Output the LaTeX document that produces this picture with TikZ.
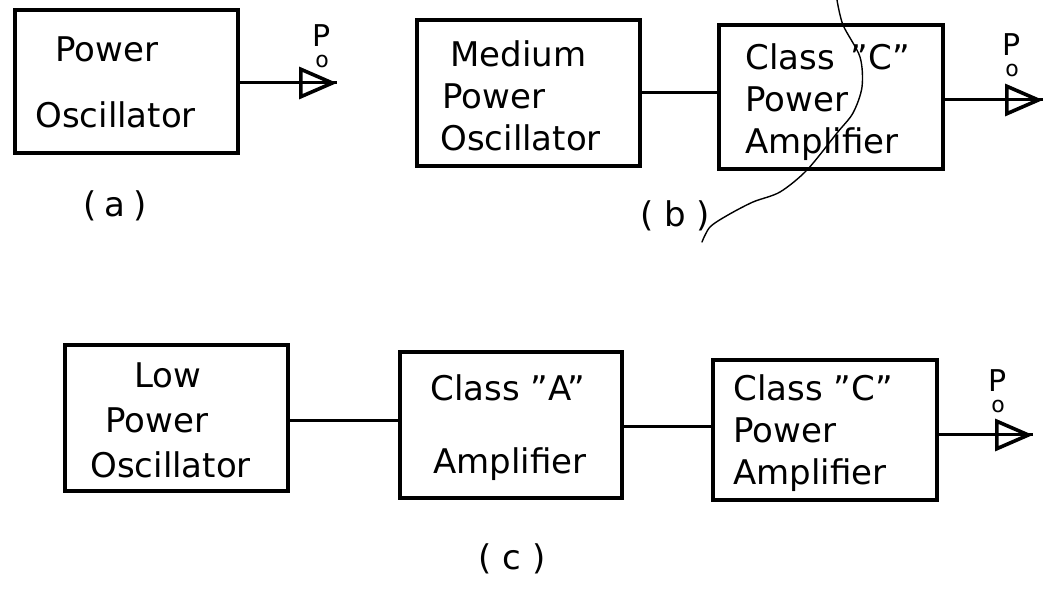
\documentclass[tikz,border=0pt]{standalone}
\usepackage{fontspec}
\setmainfont{DejaVu Sans}
\usetikzlibrary{arrows.meta}
\begin{document}
\begin{tikzpicture}[x=0.5pt,y=-0.5pt,
  box/.style={draw, line width=2pt, inner sep=0pt},
  txt/.style={anchor=north west, inner sep=0pt, align=left, font=\fontsize{17}{21}\selectfont},
  po/.style={anchor=north west, inner sep=0pt, align=left, font=\fontsize{15}{10.5}\selectfont},
  caption/.style={font=\fontsize{17}{21}\selectfont, inner sep=0pt},
  conn/.style={line width=1.5pt},
  outarrow/.style={line width=1.5pt, -{Triangle[open, length=19pt, width=16pt, line width=1.8pt]}},
  scratch/.style={line width=0.7pt, line cap=round}]
\useasboundingbox (0,0) rectangle (1045,592);

% boxes
\node[box, minimum width=111.5pt, minimum height=71.5pt] (A)  at (126.5,81.5) {};
\node[box, minimum width=111.5pt, minimum height=73pt]   (B1) at (528.5,93) {};
\node[box, minimum width=112pt,   minimum height=72pt]   (B2) at (831,97) {};
\node[box, minimum width=111.5pt, minimum height=73pt]   (C1) at (176.5,418) {};
\node[box, minimum width=111pt,   minimum height=73pt]   (C2) at (511,425) {};
\node[box, minimum width=112pt,   minimum height=70pt]   (C3) at (825,430) {};

% texts
\node[txt] (tA)  at (35,36)  {\hspace*{10pt}Power\\[12pt]Oscillator};
\node[txt] (tB1) at (440,40) {\hspace*{5pt}Medium\\\hspace*{1pt}Power\\Oscillator};
\node[txt] (tB2) at (745,43) {Class\hspace{8pt}”C”\\Power\\Amplifier};
\node[txt] (tC1) at (90,362) {\hspace*{22pt}Low\\[1.5pt]\hspace*{7.5pt}Power\\[1.5pt]Oscillator};
\node[txt] (tC2) at (430,374) {Class ”A”\\[15.5pt]\hspace*{1.5pt}Amplifier};
\node[txt] (tC3) at (733,374) {Class ”C”\\Power\\Amplifier};

% output points
\coordinate (outA) at (337,83);
\coordinate (outB) at (1043,100);
\coordinate (outC) at (1033,435);

% connectors
\draw[conn] (B1.east) -- (B1.east -| B2.west);
\draw[conn] (C1.east |- 0,421) -- (C2.west |- 0,421);
\draw[conn] (C2.east |- 0,427) -- (C3.west |- 0,427);

\draw[conn] (A.east |- outA) -- (outA);
\draw[outarrow] (A.east |- outA) -- (outA);
\draw[conn] (B2.east |- outB) -- (outB);
\draw[outarrow] (B2.east |- outB) -- (outB);
\draw[conn] (C3.east |- outC) -- (outC);
\draw[outarrow] (C3.east |- outC) -- (outC);

% P_o labels
\node[po] (pA) at (312,24)  {P\\\hspace*{1.5pt}{\fontsize{11}{10.5}\selectfont o}};
\node[po] (pB) at (1002,33) {P\\\hspace*{1.5pt}{\fontsize{11}{10.5}\selectfont o}};
\node[po] (pC) at (988,369) {P\\\hspace*{1.5pt}{\fontsize{11}{10.5}\selectfont o}};

% captions
\node[caption] (capA) at (115,206) {(\hspace{4pt}a\hspace{4pt})};
\node[caption] (capB) at (675,216) {( b )};
\node[caption] (capC) at (512,559) {( c )};

% stray pen stroke across (b)
\draw[scratch] plot[smooth] coordinates {(837,0) (843,25) (860,57) (862,87) (853,113) (837,133) (807,170) (780,192) (753,202) (728,215) (710,227) (702,242)};
\end{tikzpicture}
\end{document}
